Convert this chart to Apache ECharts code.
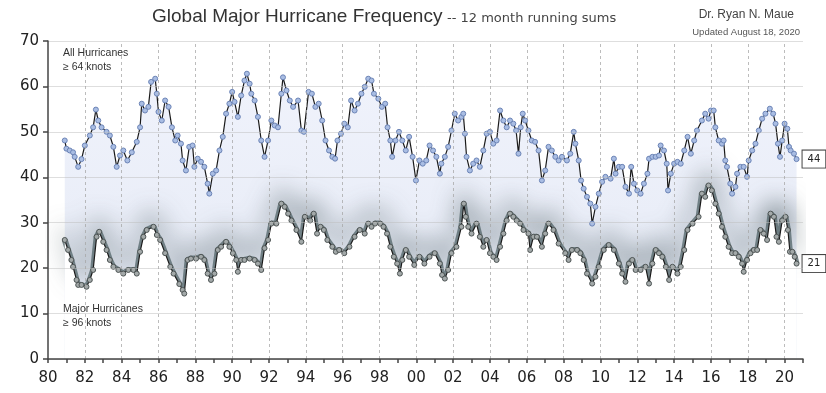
<!DOCTYPE html>
<html>
<head>
<meta charset="utf-8">
<script src="https://cdn.jsdelivr.net/npm/echarts@6/dist/echarts.min.js"></script>
<style>html,body{margin:0;padding:0;background:#fff;}#c{width:826px;height:393px;}</style>
</head>
<body>
<div id="c"></div>
<script>
// 12-month running sums
const allYears = [1980.91,1981.0,1981.18,1981.36,1981.45,1981.64,1981.82,1982.0,1982.27,1982.45,1982.6,1982.73,1982.91,1983.18,1983.36,1983.55,1983.73,1983.91,1984.09,1984.31,1984.55,1984.82,1985.0,1985.09,1985.27,1985.45,1985.6,1985.82,1985.91,1986.0,1986.18,1986.36,1986.55,1986.73,1986.91,
1987.04,1987.22,1987.31,1987.49,1987.67,1987.85,1987.95,1988.13,1988.31,1988.49,1988.67,1988.76,1988.95,1989.13,1989.31,1989.49,1989.67,1989.85,1990.0,1990.13,1990.31,1990.49,1990.67,1990.8,1990.95,1991.04,1991.22,1991.4,1991.58,1991.76,1991.95,1992.13,1992.31,1992.49,1992.67,1992.76,1992.95,1993.13,1993.31,1993.58,1993.76,1993.9,
1994.15,1994.33,1994.52,1994.7,1994.89,1995.07,1995.26,1995.44,1995.59,1995.72,1995.91,1996.09,1996.28,1996.46,1996.65,1996.83,1997.02,1997.2,1997.39,1997.57,1997.7,1997.94,1998.13,1998.31,1998.44,1998.59,1998.69,1998.87,1999.06,1999.24,1999.43,1999.61,1999.8,1999.98,2000.17,2000.35,2000.54,2000.72,2000.91,2001.09,2001.28,
2001.36,2001.55,2001.73,2001.91,2002.09,2002.27,2002.45,2002.55,2002.64,2002.73,2002.91,2003.09,2003.27,2003.45,2003.64,2003.82,2004.0,2004.18,2004.36,2004.55,2004.73,2004.91,2005.09,2005.27,2005.42,2005.55,2005.67,2005.78,2005.91,2006.09,2006.27,2006.45,2006.64,2006.82,2007.0,2007.18,2007.36,2007.55,2007.73,2007.91,
2008.18,2008.36,2008.55,2008.64,2008.82,2008.95,2009.09,2009.27,2009.45,2009.55,2009.73,2009.91,2010.09,2010.27,2010.55,2010.73,2010.82,2011.0,2011.18,2011.36,2011.55,2011.67,2011.82,2012.0,2012.18,2012.36,2012.55,2012.64,2012.82,2013.0,2013.18,2013.27,2013.45,2013.6,2013.67,2013.82,2014.0,2014.18,2014.36,2014.55,2014.73,2014.91,2015.09,
2015.24,2015.51,2015.69,2015.87,2016.0,2016.15,2016.24,2016.42,2016.6,2016.69,2016.78,2016.87,2017.05,2017.15,2017.33,2017.42,2017.6,2017.78,2017.96,2018.05,2018.24,2018.42,2018.6,2018.78,2018.96,2019.2,2019.38,2019.51,2019.64,2019.75,2019.87,2020.0,2020.15,2020.24,2020.33,2020.51,2020.65];
const allValues = [48.1,46.3,45.9,45.5,44.5,42.3,44.0,47.0,49.2,51.0,54.9,52.5,51.0,50.0,49.2,46.7,42.3,44.8,45.9,43.7,45.5,47.8,51.0,56.2,54.7,55.5,61.0,61.7,58.4,54.4,52.5,56.9,55.5,51.0,48.1,
49.2,47.4,43.7,41.5,46.7,47.0,42.3,44.1,43.4,42.3,38.6,36.4,40.8,41.5,45.9,48.9,54.0,56.2,58.8,56.6,53.3,58.0,61.3,62.8,60.6,58.4,56.9,53.3,48.1,44.5,48.1,52.5,51.4,51.0,58.4,62.0,59.1,56.9,55.5,56.9,50.3,50.0,
58.8,58.4,55.5,56.2,52.5,48.1,45.9,44.5,44.1,48.1,49.6,51.8,51.0,56.9,54.7,56.2,58.4,59.9,61.7,61.3,58.4,57.3,55.5,56.2,51.0,48.1,44.5,48.1,50.0,48.1,45.9,48.9,44.5,39.3,43.7,43.0,43.7,47.0,45.9,44.5,40.8,
43.0,44.5,46.7,50.3,54.0,52.5,53.3,54.0,49.6,44.5,41.5,43.0,43.7,42.3,45.9,49.6,50.0,47.4,48.1,54.7,52.5,51.0,52.5,51.8,50.3,45.2,51.0,54.0,52.5,50.3,48.1,47.8,45.9,39.3,41.5,46.7,45.9,44.5,43.7,44.5,
43.7,45.2,50.0,47.4,43.7,39.3,37.5,35.7,34.2,29.8,33.5,36.4,39.0,40.1,39.7,44.1,40.8,42.3,42.3,37.9,36.4,42.3,38.6,37.1,36.4,38.6,40.8,44.1,44.5,44.5,44.8,47.0,45.9,43.0,37.1,40.8,43.0,43.4,43.0,45.9,48.9,45.2,48.1,
50.3,52.5,54.0,52.9,54.7,54.7,51.0,48.1,47.4,48.1,43.7,42.3,38.6,36.4,37.9,40.8,42.3,42.3,40.1,43.7,45.9,47.4,50.3,52.9,54.0,55.1,54.0,51.8,47.4,44.5,48.1,51.8,50.7,46.7,45.9,45.2,44];

const majorYears = [1980.91,1981.09,1981.27,1981.36,1981.55,1981.64,1981.82,1982.09,1982.27,1982.45,1982.64,1982.78,1983.0,1983.18,1983.36,1983.55,1983.82,1984.09,1984.36,1984.64,1984.82,1985.0,1985.18,1985.36,1985.73,1985.91,1986.09,1986.36,1986.64,1986.82,
1987.13,1987.31,1987.4,1987.58,1987.76,1988.04,1988.31,1988.49,1988.67,1988.85,1989.04,1989.22,1989.4,1989.67,1989.85,1990.04,1990.22,1990.31,1990.49,1990.67,1990.95,1991.22,1991.4,1991.58,1991.76,1991.95,1992.13,1992.4,1992.67,1992.85,1993.04,1993.22,1993.49,1993.76,1993.95,
1994.24,1994.43,1994.61,1994.8,1994.98,1995.17,1995.44,1995.63,1995.81,1996.09,1996.37,1996.65,1996.93,1997.2,1997.39,1997.57,1997.76,1998.04,1998.22,1998.41,1998.59,1998.78,1998.96,1999.11,1999.24,1999.43,1999.61,1999.89,2000.17,2000.44,2000.72,2001.0,2001.28,
2001.4,2001.55,2001.73,2001.91,2002.18,2002.45,2002.58,2002.69,2002.82,2003.0,2003.27,2003.45,2003.64,2003.82,2004.0,2004.18,2004.36,2004.55,2004.73,2004.91,2005.09,2005.27,2005.45,2005.64,2005.82,2006.09,2006.18,2006.36,2006.55,2006.82,2007.0,2007.18,2007.45,2007.73,
2008.09,2008.27,2008.45,2008.73,2008.91,2009.09,2009.27,2009.55,2009.73,2009.91,2010.18,2010.45,2010.73,2011.0,2011.18,2011.36,2011.55,2011.73,2011.91,2012.18,2012.45,2012.64,2012.82,2013.0,2013.18,2013.36,2013.55,2013.73,2013.91,2014.18,2014.36,2014.55,2014.73,2015.0,
2015.33,2015.51,2015.69,2015.87,2016.05,2016.24,2016.42,2016.6,2016.78,2016.96,2017.15,2017.33,2017.51,2017.69,2017.78,2017.96,2018.15,2018.33,2018.51,2018.69,2018.87,2019.05,2019.24,2019.42,2019.56,2019.69,2019.87,2020.05,2020.18,2020.29,2020.42,2020.55,2020.65];
const majorValues = [26.2,24.0,21.8,20.3,17.4,16.3,16.3,15.9,17.4,19.6,26.9,28.0,25.8,24.0,21.8,20.3,19.6,18.8,19.6,19.6,18.8,23.6,26.9,28.4,29.1,27.3,26.2,23.3,20.3,18.8,
16.5,15.2,14.4,21.8,22.1,22.1,22.5,21.8,18.8,17.4,18.8,24.0,24.7,25.8,24.7,23.3,21.8,19.2,21.8,21.8,22.1,21.8,21.0,19.6,24.4,26.2,29.8,29.8,34.2,33.5,32.0,30.5,28.4,25.8,31.3,
30.5,32.0,27.6,29.1,28.4,26.2,24.7,23.6,24.0,23.3,24.7,26.9,28.4,27.6,29.8,29.1,29.8,29.8,29.1,27.6,24.7,22.5,21.0,18.8,21.8,24.0,22.5,20.7,22.5,21.0,22.5,23.3,21.0,
18.5,17.7,19.6,23.3,24.7,29.1,34.2,31.3,29.1,27.6,29.8,26.9,24.7,26.2,23.3,22.5,21.8,24.7,27.6,30.5,32.0,31.3,30.5,29.8,28.4,27.6,24.0,26.9,26.9,24.7,27.6,29.8,28.4,25.4,
23.3,21.8,24.0,24.0,23.3,21.8,18.8,16.6,18.1,20.3,24.0,25.1,24.0,21.0,18.8,17.0,21.0,21.8,19.6,19.6,20.3,16.6,21.0,24.0,23.3,22.5,20.3,17.4,20.3,18.8,20.3,24.0,28.4,29.8,
31.3,36.4,35.7,38.2,37.1,34.2,32.0,29.1,26.9,24.7,23.3,23.3,22.5,21.0,19.2,21.8,23.3,24.0,24.0,28.4,27.6,26.2,32.0,31.3,26.9,25.8,30.5,31.3,28.4,23.6,23.6,22.5,21];

const gridYears = [1982,1984,1986,1988,1990,1992,1994,1996,1998,2000,2002,2004,2006,2008,2010,2012,2014,2016,2018,2020];

const allData = allYears.map((y, i) => [y, allValues[i]]);
const majorData = majorYears.map((y, i) => [y, majorValues[i]]);

const chart = echarts.init(document.getElementById('c'), null, {renderer: 'canvas'});
const endLbl = {
  show: true,
  formatter: p => String(Math.round(p.value[1])),
  backgroundColor: '#fff',
  borderColor: '#444',
  borderWidth: 1,
  padding: [4, 5, 3, 5],
  fontSize: 10,
  fontFamily: 'DejaVu Sans',
  color: '#222',
  distance: 6
};

chart.setOption({
  animation: false,
  backgroundColor: '#fff',
  grid: {left: 48, right: 23, top: 41, bottom: 34, containLabel: false},
  xAxis: {
    type: 'value', min: 1980, max: 2021, interval: 1, z: 5,
    axisLine: {show: true, lineStyle: {color: '#444', width: 1.5}},
    axisTick: {show: true, length: 4, lineStyle: {color: '#444', width: 1.5}},
    axisLabel: {
      margin: 12, fontSize: 15, fontFamily: 'DejaVu Sans', color: '#222',
      formatter: v => (v % 2 === 0 && v <= 2020) ? String(v).slice(2) : ''
    },
    splitLine: {show: false}
  },
  yAxis: {
    type: 'value', min: 0, max: 70, interval: 10, z: 5,
    axisLine: {show: true, lineStyle: {color: '#444', width: 1.5}},
    axisTick: {show: true, length: 5, lineStyle: {color: '#444', width: 1.5}},
    axisLabel: {margin: 9, fontSize: 15, fontFamily: 'DejaVu Sans', color: '#222'},
    splitLine: {show: true, lineStyle: {color: 'rgba(190,190,190,0.5)', width: 1}}
  },
  series: [
    {
      name: 'All fill', type: 'line', data: allData, silent: true,
      symbol: 'none', lineStyle: {width: 0, opacity: 0},
      areaStyle: {
        origin: 'start',
        color: new echarts.graphic.LinearGradient(0, 0, 0, 1, [
          {offset: 0, color: '#e9edfa'},
          {offset: 1, color: '#d9e0f0'}
        ])
      },
      z: 1
    },
    {
      name: 'glow', type: 'line', data: majorData, silent: true,
      symbol: 'none',
      lineStyle: {
        color: 'rgba(82,100,104,0.75)', width: 6,
        shadowColor: 'rgba(72,90,94,1)', shadowBlur: 24, shadowOffsetY: -11
      },
      z: 1
    },
    {
      name: 'cover', type: 'line', data: majorData, silent: true,
      symbol: 'none', lineStyle: {width: 0, opacity: 0},
      areaStyle: {origin: 'start', color: '#ffffff', opacity: 1},
      markLine: {
        silent: true, symbol: 'none', label: {show: false},
        lineStyle: {color: 'rgba(165,165,165,0.75)', type: [3, 3], width: 1},
        data: gridYears.map(y => ({xAxis: y}))
      },
      z: 2
    },
    {
      name: 'Major Hurricanes', type: 'line', data: majorData,
      symbol: 'circle', symbolSize: 5, showSymbol: true,
      lineStyle: {color: '#1a1a1a', width: 1.2},
      itemStyle: {color: '#a3a9a9', borderColor: '#4d5454', borderWidth: 1},
      endLabel: endLbl,
      z: 3
    },
    {
      name: 'All Hurricanes', type: 'line', data: allData,
      symbol: 'circle', symbolSize: 5, showSymbol: true,
      lineStyle: {color: '#1a1a1a', width: 1.2},
      itemStyle: {color: '#a9bde3', borderColor: '#6c84b6', borderWidth: 1},
      endLabel: endLbl,
      z: 3
    }
  ],
  graphic: [
    {type: 'text', left: 152, top: 7, style: {text: 'Global Major Hurricane Frequency', fontSize: 19, fontFamily: 'Liberation Sans', fill: '#333'}},
    {type: 'text', left: 447, top: 12, style: {text: '-- 12 month running sums', fontSize: 13, fontFamily: 'DejaVu Sans', fill: '#444'}},
    {type: 'text', right: 32, top: 9, style: {text: 'Dr. Ryan N. Maue', fontSize: 12, fontFamily: 'Liberation Sans', fill: '#444'}},
    {type: 'text', right: 26, top: 27, style: {text: 'Updated August 18, 2020', fontSize: 9.5, fontFamily: 'Liberation Sans', fill: '#555'}},
    {type: 'text', left: 63, top: 46, z: 10, style: {text: 'All Hurricanes\n\u2265 64 knots', fontSize: 10.5, lineHeight: 14, fontFamily: 'Liberation Sans', fill: '#333'}},
    {type: 'text', left: 63, top: 302, z: 10, style: {text: 'Major Hurricanes\n\u2265 96 knots', fontSize: 10.5, lineHeight: 14, fontFamily: 'Liberation Sans', fill: '#333'}}
  ]
});
</script>
</body>
</html>
